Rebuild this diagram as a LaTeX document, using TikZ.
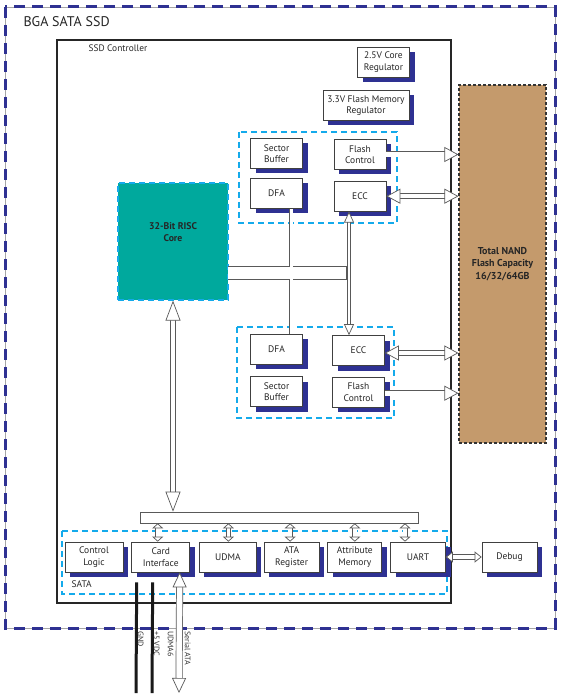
\documentclass[tikz,border=0pt]{standalone}
\usepackage{fontspec}
\setmainfont{PT Sans}
\usepackage{tikz}
\usetikzlibrary{arrows.meta,positioning,shadows,calc}
\definecolor{navyblue}{RGB}{46,49,146}
\definecolor{skycyan}{RGB}{20,170,235}
\definecolor{riscteal}{RGB}{0,169,157}
\definecolor{nandtan}{RGB}{196,154,108}

\begin{document}
\begin{tikzpicture}[x=1pt, y=-1pt,
  unit/.style={draw=black!75, fill=white, line width=0.7pt, minimum width=#1,
    minimum height=30pt, inner sep=1pt, align=center,
    font=\fontsize{9.5}{11.5}\selectfont, text=black!85,
    general shadow={fill=navyblue, shadow xshift=5pt, shadow yshift=-5pt}},
  unit/.default=52pt,
  group/.style={draw=skycyan, line width=1.3pt, dash pattern=on 6pt off 4pt},
  bar/.style={draw=black!65, fill=white, line width=0.7pt},
  wide/.style={draw=black!65, line width=0.7pt, double=white, double distance=4.6pt},
  tipbig/.tip={Triangle[open, fill=white, length=14pt, width=15pt]},
  tipsmall/.tip={Triangle[open, fill=white, length=5pt, width=11pt]},
  wire/.style={line width=3pt, black!90},
  pin/.style={rotate=-90, anchor=south west, inner sep=0pt,
    font=\fontsize{8}{9}\selectfont, text=black!80}
]
  \useasboundingbox (0,0) rectangle (561,700);

  % outer package and controller
  \draw[black!35, line width=0.4pt] (5,7) rectangle (555,628);
  \draw[navyblue, line width=3pt, dash pattern=on 11pt off 7pt] (5,7) rectangle (555,628);
  \node[anchor=west, font=\fontsize{14}{16}\selectfont, text=black!85] (title) at (20,22) {BGA SATA SSD};
  \node[draw=black!85, line width=1.2pt, minimum width=394pt, minimum height=563pt] (ctrl) at (254,321.5) {};
  \node[anchor=west, font=\fontsize{9.4}{11}\selectfont, text=black!85] (ctrltitle) at (85,48) {SSD Controller};

  % regulators
  \node[unit] (reg25) at (383.5,62) {2.5V Core\\Regulator};
  \node[unit=86pt] (reg33) at (366,105.5) {3.3V Flash Memory\\Regulator};

  % flash channel groups
  \draw[group] (239,132) rectangle (397,223);
  \draw[group] (237,327) rectangle (394,418);
  \node[unit] (sb1) at (276.5,153.5) {Sector\\Buffer};
  \node[unit, below=9pt of sb1] (dfa1) {DFA};
  \node[unit] (fc1) at (360,154.5) {Flash\\Control};
  \node[unit, below=11pt of fc1] (ecc1) {ECC};
  \node[unit] (dfa2) at (276.5,349) {DFA};
  \node[unit, below=12pt of dfa2] (sb2) {Sector\\Buffer};
  \node[unit] (ecc2) at (358.5,350.5) {ECC};
  \node[unit, below=11pt of ecc2] (fc2) {Flash\\Control};

  % RISC core
  \node[fill=riscteal, draw=skycyan, line width=1.3pt, dash pattern=on 6pt off 4pt,
    minimum width=110pt, minimum height=117pt,
    label={[yshift=9pt, align=center, font=\bfseries\fontsize{9.7}{12}\selectfont, text=black!85]center:32-Bit RISC\\Core}]
    (core) at (173,241.5) {};

  % NAND flash
  \node[fill=nandtan, draw=black!80, line width=1.2pt, dash pattern=on 3pt off 2pt,
    minimum width=87pt, minimum height=358pt, align=center,
    font=\bfseries\fontsize{10}{12.5}\selectfont, text=black!85]
    (nand) at (502.5,264) {Total NAND\\Flash Capacity\\16/32/64GB};

  % internal bus
  \fill[black!65] (228,266.3) rectangle (346.7,279.7);
  \fill[black!65] ([xshift=12.3pt]dfa1.south) rectangle ([xshift=16.7pt]dfa2.north);
  \fill[white] (228,267) rectangle (346,279);
  \fill[white] ([xshift=13pt]dfa1.south) rectangle ([xshift=16pt]dfa2.north);
  \draw[wide, double distance=2.6pt, {Triangle[open, fill=white, length=11pt, width=10pt]}-{Triangle[open, fill=white, length=11pt, width=10pt]}]
    ([xshift=-11pt]ecc1.south) -- ([xshift=-11pt]ecc1.south |- ecc2.north);

  % flash channels to NAND
  \draw[wide, -tipbig] (fc1.east) -- (fc1.east -| nand.west);
  \draw[wide, tipbig-tipbig] (ecc1.east) -- (ecc1.east -| nand.west);
  \draw[wide, tipbig-tipbig] ([yshift=-2.5pt]ecc2.east) -- ([yshift=-2.5pt]ecc2.east -| nand.west);
  \draw[wide, -tipbig] ([yshift=-1pt]fc2.east) -- ([yshift=-1pt]fc2.east -| nand.west);

  % SATA interface
  \draw[group] (62,531) rectangle (447,594);
  \node[anchor=west, font=\fontsize{9.5}{11}\selectfont, text=black!85] (satatitle) at (68,584) {SATA};
  \node[bar, minimum width=278pt, minimum height=11pt, inner sep=0pt] (satabus) at (279,517.5) {};
  \node[unit=58pt] (cl) at (94,557) {Control\\Logic};
  \node[unit=58pt, right=8pt of cl] (ci) {Card\\Interface};
  \node[unit=57pt, right=9pt of ci] (udma) {UDMA};
  \node[unit=55pt, right=7pt of udma] (ata) {ATA\\Register};
  \node[unit=54pt, right=8pt of ata] (attr) {Attribute\\Memory};
  \node[unit=55pt, right=8pt of attr] (uart) {UART};
  \node[unit=55pt] (debug) at (509.5,557) {Debug};

  \draw[wide, double distance=4.6pt, tipbig-tipbig, tipbig/.tip={Triangle[open, fill=white, length=20pt, width=15pt]}]
    (core.south) -- (core.south |- satabus.north);
  \foreach \blk/\dx in {ci/-3, udma/0.5, ata/-1.5, attr/0, uart/-13} {
    \draw[wide, double distance=3.6pt, tipsmall-tipsmall]
      ([xshift=\dx pt]\blk.north) -- ([xshift=\dx pt]\blk.north |- satabus.south);
  }
  \draw[wide, double distance=4pt, {Triangle[open, fill=white, length=7pt, width=11pt]}-{Triangle[open, fill=white, length=7pt, width=11pt]}]
    (uart.east) -- (debug.west);

  % host pins
  \coordinate (gndend) at (136,693);
  \coordinate (vddend) at (152,693);
  \coordinate (sataend) at (179,693);
  \draw[wire] ([xshift=-24pt, yshift=-10pt]ci.south) -- (gndend);
  \draw[wire] ([xshift=-8pt, yshift=-10pt]ci.south) -- (vddend);
  \draw[wide, double distance=5.6pt, tipbig-tipbig, tipbig/.tip={Triangle[open, fill=white, length=15pt, width=14pt]}]
    ([xshift=19pt]ci.south) -- (sataend);
  \node[pin] (gnd) at (137.5,631) {GND};
  \node[pin] (vdd) at (153.5,631) {+5 VDC};
  \node[pin] (udma6) at (167.5,631) {UDMA6};
  \node[pin] (serial) at (184.5,631) {Serial ATA};
\end{tikzpicture}
\end{document}
